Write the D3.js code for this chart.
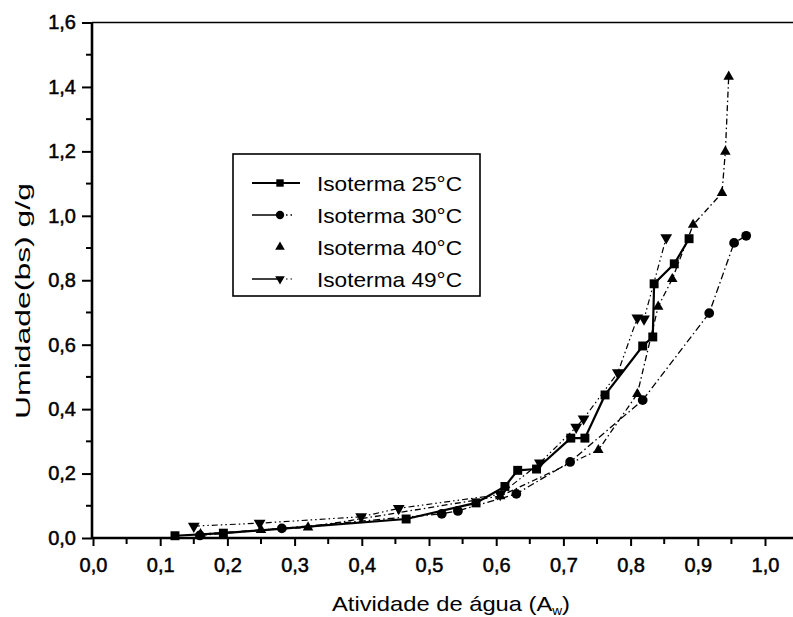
<!DOCTYPE html>
<html>
<head>
<meta charset="utf-8">
<script src="https://cdn.jsdelivr.net/npm/d3@7"></script>
<style>
  html, body { margin: 0; padding: 0; background: #fff; }
  svg { display: block; }
  text { font-family: "Liberation Sans", Arial, sans-serif; fill: #000; }
</style>
</head>
<body>
<svg id="chart" width="793" height="617"></svg>
<script>
// Sorption isotherms: moisture content (dry basis) vs water activity
const aw25 = [0.122, 0.194, 0.466, 0.570, 0.613, 0.632, 0.660, 0.711, 0.732, 0.762, 0.818, 0.833, 0.835, 0.865, 0.887];
const u25  = [0.007, 0.015, 0.059, 0.109, 0.160, 0.210, 0.214, 0.310, 0.310, 0.444, 0.596, 0.624, 0.789, 0.851, 0.929];

const aw30 = [0.159, 0.281, 0.519, 0.543, 0.630, 0.710, 0.818, 0.917, 0.954, 0.972];
const u30  = [0.008, 0.030, 0.075, 0.084, 0.137, 0.236, 0.428, 0.698, 0.916, 0.938];

const aw40 = [0.160, 0.250, 0.320, 0.606, 0.752, 0.810, 0.841, 0.862, 0.893, 0.936, 0.941, 0.946];
const u40  = [0.012, 0.025, 0.033, 0.130, 0.273, 0.447, 0.718, 0.804, 0.972, 1.071, 1.199, 1.432];

const aw49 = [0.150, 0.248, 0.399, 0.455, 0.606, 0.665, 0.719, 0.730, 0.781, 0.810, 0.820, 0.853];
const u49  = [0.037, 0.046, 0.066, 0.092, 0.135, 0.233, 0.344, 0.370, 0.513, 0.683, 0.680, 0.932];

const seriesNames = ["Isoterma 25°C", "Isoterma 30°C", "Isoterma 40°C", "Isoterma 49°C"];
const xTicks = [0, 0.1, 0.2, 0.3, 0.4, 0.5, 0.6, 0.7, 0.8, 0.9, 1.0];
const yTicks = [0, 0.2, 0.4, 0.6, 0.8, 1.0, 1.2, 1.4, 1.6];
const xTitle = "Atividade de água (A";
const xTitleSub = "w";
const yTitle = "Umidade(bs) g/g";

const W = 793, H = 617;
const svg = d3.select("#chart");

const x = d3.scaleLinear().domain([0, 1]).range([93, 765]);
const y = d3.scaleLinear().domain([0, 1.6]).range([538, 22.5]);
const fmt = d => d3.format(".1f")(d).replace(".", ",");

const series = [
  { name: seriesNames[0], xs: aw25, ys: u25, shape: d3.symbolSquare, size: 80, dash: null, width: 2.2, showLine: true },
  { name: seriesNames[1], xs: aw30, ys: u30, shape: d3.symbolCircle, size: 75, dash: "7,3,1.5,3", width: 1.3, showLine: true },
  { name: seriesNames[2], xs: aw40, ys: u40, shape: d3.symbolTriangle, size: 48, dash: "6,3,1.5,3", width: 1.3, showLine: false },
  { name: seriesNames[3], xs: aw49, ys: u49, shape: d3.symbolTriangle, size: 60, dash: "6,3,1.5,3,1.5,3", width: 1.2, showLine: true, down: true }
];

// frame: top border
svg.append("line")
  .attr("x1", x(0) - 1).attr("x2", W).attr("y1", y(1.6)).attr("y2", y(1.6))
  .attr("stroke", "#000").attr("stroke-width", 1.6);

// x axis
const xAxis = d3.axisBottom(x).tickValues(xTicks).tickFormat(fmt).tickSize(8).tickPadding(12);
const gx = svg.append("g").attr("transform", `translate(0,${y(0)})`).call(xAxis);
gx.select(".domain").remove();
gx.append("line").attr("x1", x(0) - 1).attr("x2", W).attr("stroke", "#000").attr("stroke-width", 2.6);
gx.selectAll(".tick line").attr("stroke-width", 2);
gx.selectAll(".tick text").attr("font-size", 20).attr("stroke", "#000").attr("stroke-width", 0.5)
  .style("font-family", "'Liberation Sans', Arial, sans-serif");
// x minor ticks
const xMinor = d3.range(0.05, 1.06, 0.1);
gx.selectAll(".minor").data(xMinor).enter().append("line")
  .attr("x1", d => x(d)).attr("x2", d => x(d)).attr("y1", 0).attr("y2", 6)
  .attr("stroke", "#000").attr("stroke-width", 2);

// y axis
const yAxis = d3.axisLeft(y).tickValues(yTicks).tickFormat(fmt).tickSize(10).tickPadding(6);
const gy = svg.append("g").attr("transform", `translate(${x(0) - 1},0)`).call(yAxis);
gy.select(".domain").remove();
gy.append("line").attr("y1", y(1.6)).attr("y2", y(0) + 1).attr("stroke", "#000").attr("stroke-width", 2.6);
gy.selectAll(".tick line").attr("stroke-width", 2);
gy.selectAll(".tick text").attr("font-size", 20).attr("stroke", "#000").attr("stroke-width", 0.5)
  .style("font-family", "'Liberation Sans', Arial, sans-serif");
const yMinor = d3.range(0.1, 1.6, 0.2);
gy.selectAll(".minor").data(yMinor).enter().append("line")
  .attr("x1", 0).attr("x2", -6).attr("y1", d => y(d)).attr("y2", d => y(d))
  .attr("stroke", "#000").attr("stroke-width", 2);

// data lines and markers
const line = d3.line().x(d => x(d[0])).y(d => y(d[1]));
series.forEach(s => {
  const pts = s.xs.map((v, i) => [v, s.ys[i]]);
  svg.append("path").datum(pts)
    .attr("d", line).attr("fill", "none").attr("stroke", "#000")
    .attr("stroke-width", s.width).attr("stroke-dasharray", s.dash);
  svg.append("g").selectAll("path").data(pts).enter().append("path")
    .attr("d", d3.symbol().type(s.shape).size(s.size))
    .attr("transform", d => `translate(${x(d[0])},${y(d[1])})${s.down ? " rotate(180)" : ""}`)
    .attr("fill", "#000");
});

// legend
const lg = svg.append("g");
lg.append("rect").attr("x", 233).attr("y", 154).attr("width", 247).attr("height", 142)
  .attr("fill", "#fff").attr("stroke", "#000").attr("stroke-width", 1.6);
series.forEach((s, i) => {
  const cy = 183 + i * 32;
  if (s.showLine) {
    lg.append("line").attr("x1", 252).attr("x2", 300).attr("y1", cy).attr("y2", cy)
      .attr("stroke", "#000").attr("stroke-width", s.width)
      .attr("stroke-dasharray", s.dash ? "0,26,5,3,1.5,3,1.5,3" : null);
    if (s.dash) {
      lg.append("line").attr("x1", 252).attr("x2", 278).attr("y1", cy).attr("y2", cy)
        .attr("stroke", "#000").attr("stroke-width", 1.5);
    }
  }
  lg.append("path")
    .attr("d", d3.symbol().type(s.shape).size(s.shape === d3.symbolTriangle ? 40 : 55))
    .attr("transform", `translate(280,${cy})${s.down ? " rotate(180)" : ""}`)
    .attr("fill", "#000");
  lg.append("text").attr("x", 317).attr("y", cy).attr("dy", "0.36em")
    .attr("font-size", 21).attr("textLength", 145).attr("lengthAdjust", "spacingAndGlyphs")
    .text(s.name);
});

// axis titles
const xt = svg.append("text").attr("x", 451).attr("y", 611).attr("text-anchor", "middle")
  .attr("font-size", 21).attr("textLength", 238).attr("lengthAdjust", "spacingAndGlyphs")
  .text(xTitle);
xt.append("tspan").attr("font-size", 12).attr("dy", 4).text(xTitleSub);
xt.append("tspan").attr("dy", -4).text(")");

svg.append("text").attr("transform", "translate(30,301) rotate(-90)")
  .attr("text-anchor", "middle").attr("font-size", 21)
  .attr("textLength", 236).attr("lengthAdjust", "spacingAndGlyphs")
  .text(yTitle);
</script>
</body>
</html>
